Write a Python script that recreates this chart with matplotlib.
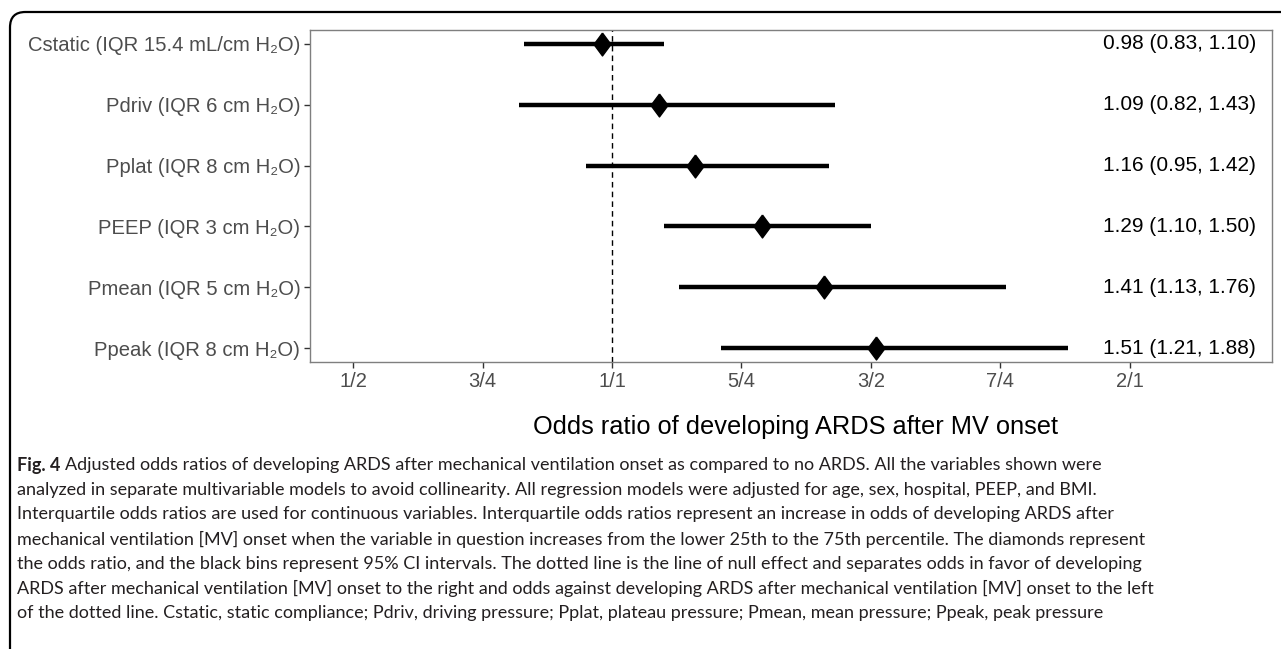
import matplotlib
matplotlib.use("Agg")
from matplotlib import pyplot as plt
from matplotlib.patches import FancyBboxPatch
from matplotlib.transforms import blended_transform_factory

# data (top to bottom)
labels = ["Cstatic (IQR 15.4 mL/cm H\u2082O)", "Pdriv (IQR 6 cm H\u2082O)", "Pplat (IQR 8 cm H\u2082O)",
          "PEEP (IQR 3 cm H\u2082O)", "Pmean (IQR 5 cm H\u2082O)", "Ppeak (IQR 8 cm H\u2082O)"]
odds = [0.98, 1.09, 1.16, 1.29, 1.41, 1.51]
lower = [0.83, 0.82, 0.95, 1.10, 1.13, 1.21]
upper = [1.10, 1.43, 1.42, 1.50, 1.76, 1.88]
ticks = [0.5, 0.75, 1.0, 1.25, 1.5, 1.75, 2.0]
ticklabels = ["1/2", "3/4", "1/1", "5/4", "3/2", "7/4", "2/1"]

caption = [
    "Adjusted odds ratios of developing ARDS after mechanical ventilation onset as compared to no ARDS. All the variables shown were",
    "analyzed in separate multivariable models to avoid collinearity. All regression models were adjusted for age, sex, hospital, PEEP, and BMI.",
    "Interquartile odds ratios are used for continuous variables. Interquartile odds ratios represent an increase in odds of developing ARDS after",
    "mechanical ventilation [MV] onset when the variable in question increases from the lower 25th to the 75th percentile. The diamonds represent",
    "the odds ratio, and the black bins represent 95% CI intervals. The dotted line is the line of null effect and separates odds in favor of developing",
    "ARDS after mechanical ventilation [MV] onset to the right and odds against developing ARDS after mechanical ventilation [MV] onset to the left",
    "of the dotted line. Cstatic, static compliance; Pdriv, driving pressure; Pplat, plateau pressure; Pmean, mean pressure; Ppeak, peak pressure",
]

plt.rcParams['font.family'] = ['Liberation Sans', 'DejaVu Sans']

W, H = 1281, 649
fig = plt.figure(figsize=(W / 100, H / 100), dpi=100)

# rounded outer frame, open to the right and bottom
frame = FancyBboxPatch((10 / W, -40 / H), 1.2, (H - 12 + 40) / H,
                       boxstyle="round,pad=0,rounding_size=0.012",
                       transform=fig.transFigure, fill=False, lw=1.6, ec="black",
                       mutation_aspect=W / H)
fig.patches.append(frame)

ax = fig.add_axes([310 / W, 1 - 362 / H, (1272 - 310) / W, (362 - 30) / H])

n = len(labels)
ys = list(range(n, 0, -1))
for y, o, lo, hi in zip(ys, odds, lower, upper):
    ax.plot([lo, hi], [y, y], color="black", lw=3.2, solid_capstyle="butt", zorder=2)
diamond = [(0, 1), (0.74, 0), (0, -1), (-0.74, 0), (0, 1)]
ax.plot(odds, ys, linestyle="none", marker=diamond, ms=16.5, color="black", zorder=3)
ax.axvline(1.0, color="black", lw=1.0, ls=(0, (4, 3)), zorder=1)

tr = blended_transform_factory(ax.transAxes, ax.transData)
for y, o, lo, hi in zip(ys, odds, lower, upper):
    ax.text(0.9835, y, f"{o:.2f} ({lo:.2f}, {hi:.2f})", transform=tr, ha="right", va="center",
            fontsize=15, color="black")

ax.set_xlim(0.4169, 2.2745)
ax.set_ylim(0.77, n + 0.23)
ax.set_yticks(ys)
ax.set_yticklabels(labels, fontsize=14.6)
ax.set_xticks(ticks)
ax.set_xticklabels(ticklabels, fontsize=14.5)
ax.tick_params(axis="both", labelcolor="#4d4d4d", color="#333333", length=4, width=1)
ax.tick_params(axis="x", pad=3)
ax.tick_params(axis="y", pad=3)
for s in ax.spines.values():
    s.set_color("#7f7f7f")
    s.set_linewidth(1.0)

fig.text(796 / W, 1 - 427 / H, "Odds ratio of developing ARDS after MV onset", ha="center", va="center",
         fontsize=18.3, color="black")

# caption
cap_font = "Lato"
cap_size = 13.0
fig.canvas.draw()
r = fig.canvas.get_renderer()
y0 = 465
for i, line in enumerate(caption):
    yy = 1 - (y0 + i * 24.7) / H
    x = 17 / W
    if i == 0:
        t = fig.text(x, yy, "Fig. 4", fontfamily=cap_font, fontweight="bold", fontsize=cap_size,
                     va="center", ha="left", color="#231f20")
        bb = t.get_window_extent(r)
        x = (bb.x1 + 5) / W
    fig.text(x, yy, line, fontfamily=cap_font, fontsize=cap_size, va="center", ha="left", color="#231f20")

fig.savefig("out.png", dpi=100)
